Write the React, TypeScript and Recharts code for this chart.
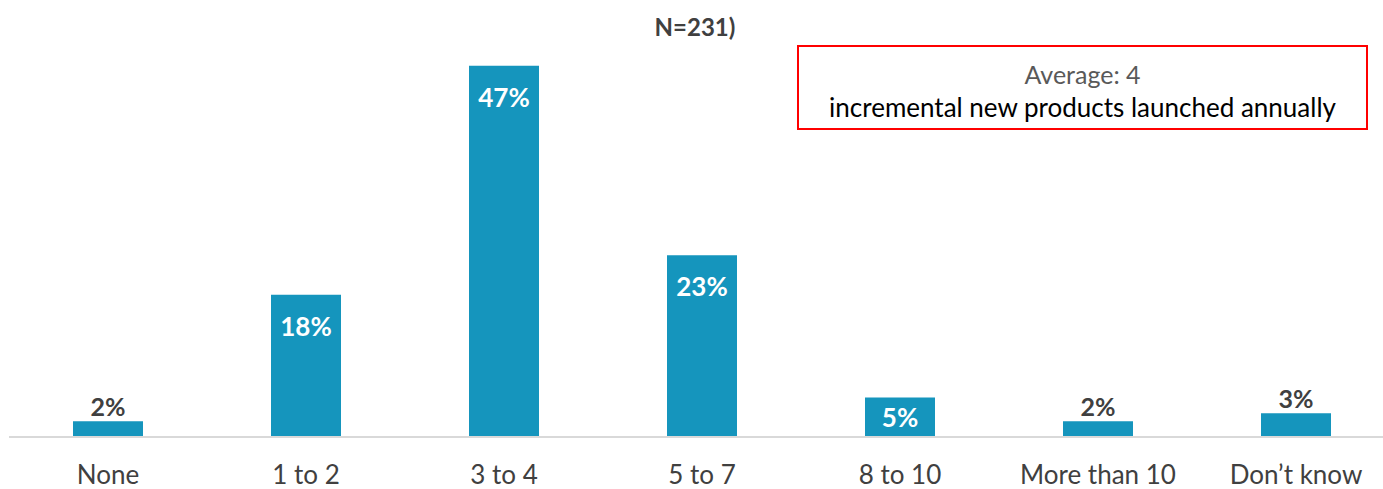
import React from 'react';
import { BarChart, Bar, XAxis, YAxis, LabelList } from 'recharts';

const CATEGORIES = ['None', '1 to 2', '3 to 4', '5 to 7', '8 to 10', 'More than 10', 'Don\u2019t know'];
const SHARES = [2, 18, 47, 23, 5, 2, 3];

const BAR_COLOR = '#1595bd';
const TEXT_DARK = '#404040';
const FONT = 'Lato, "Noto Sans", sans-serif';

const data = CATEGORIES.map((name, i) => ({ name, value: SHARES[i] }));

// labels sit inside the bar top when big enough, else above it
function ValueLabel(props: any) {
  const { x, y, width, height, value } = props;
  const cx = x + width / 2;
  if (value >= 5) {
    const cy = y + Math.min(31, height / 2);
    return (
      <text x={cx} y={cy} textAnchor="middle" dominantBaseline="central"
        fill="#ffffff" fontSize={26} fontWeight={700} fontFamily={FONT}>
        {value}%
      </text>
    );
  }
  return (
    <text x={cx} y={y - 15} textAnchor="middle" dominantBaseline="central"
      fill={TEXT_DARK} fontSize={25} fontWeight={700} fontFamily={FONT}>
      {value}%
    </text>
  );
}

function CategoryTick(props: any) {
  const { x, y, payload } = props;
  return (
    <text x={x} y={y + 37} textAnchor="middle" dominantBaseline="central"
      fill={TEXT_DARK} fontSize={26} fontFamily={FONT}>
      {payload.value}
    </text>
  );
}

export default function App() {
  return (
    <div style={{ position: 'fixed', left: 0, top: 0, width: 1383, height: 489, overflow: 'hidden', fontFamily: FONT, background: '#fff' }}>
      <div style={{ position: 'absolute', left: 0, width: 1390, top: 11, textAlign: 'center', fontSize: 24, fontWeight: 700, color: TEXT_DARK, lineHeight: '32px' }}>
        N=231)
      </div>

      <BarChart width={1400} height={489} data={data} margin={{ top: 42, right: 5, bottom: 0, left: 9 }} barSize={70}>
        <XAxis dataKey="name" axisLine={{ stroke: '#d9d9d9', strokeWidth: 2 }} tickLine={false}
          tickSize={0} tickMargin={0} height={52} interval={0} tick={<CategoryTick />} />
        <YAxis hide domain={[0, 50]} />
        <Bar dataKey="value" fill={BAR_COLOR} isAnimationActive={false}>
          <LabelList dataKey="value" content={<ValueLabel />} />
        </Bar>
      </BarChart>

      <div style={{ position: 'absolute', left: 797, top: 45, width: 571, height: 85, boxSizing: 'border-box', border: '2px solid #ff0000', textAlign: 'center', paddingTop: 11 }}>
        <div style={{ fontSize: 25, color: '#595959', lineHeight: '33px' }}>Average: 4</div>
        <div style={{ fontSize: 26, color: '#000000', lineHeight: '33px' }}>incremental new products launched annually</div>
      </div>
    </div>
  );
}
